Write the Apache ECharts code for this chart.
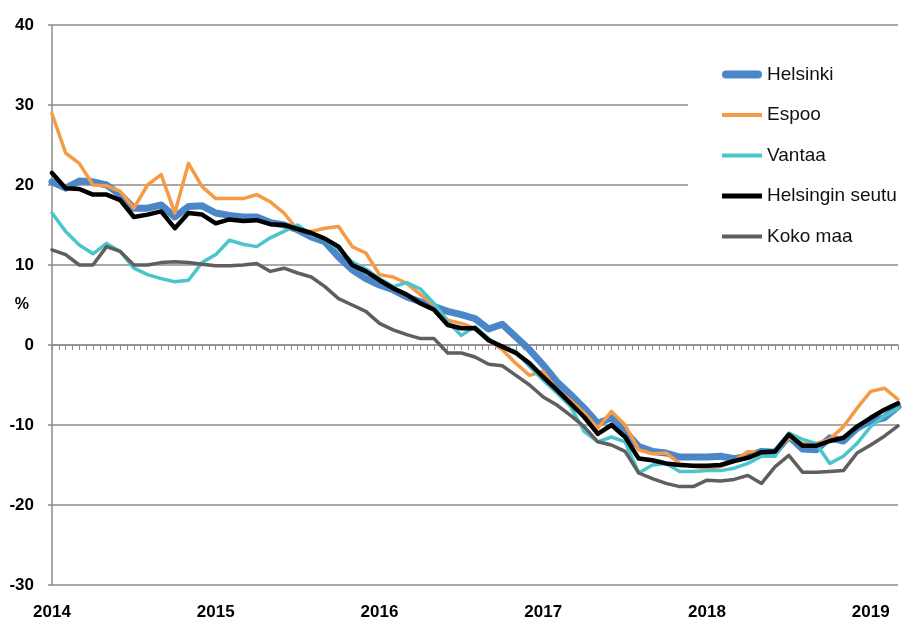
<!DOCTYPE html>
<html>
<head>
<meta charset="utf-8">
<script src="https://cdn.jsdelivr.net/npm/echarts@6/dist/echarts.min.js"></script>
<style>html,body{margin:0;padding:0;background:#fff}#c{width:908px;height:621px}</style>
</head>
<body>
<div id="c"></div>
<script>
// Tick labels / categories
const yearLabels = ['2014', '2015', '2016', '2017', '2018', '2019'];
const monthsInLastYear = 3;
const categories = [];
yearLabels.forEach((y, yi) => {
  const n = yi === yearLabels.length - 1 ? monthsInLastYear : 12;
  for (let m = 1; m <= n; m++) categories.push(y + '-' + String(m).padStart(2, '0'));
});

const seriesNames = ['Helsinki', 'Espoo', 'Vantaa', 'Helsingin seutu', 'Koko maa'];

// Values (% change), Jan 2014 .. Mar 2019
const helsinki = [
  20.4, 19.6, 20.5, 20.4, 20.0, 18.8, 17.1, 17.1, 17.5, 16.0, 17.3, 17.4,
  16.5, 16.2, 16.0, 16.0, 15.3, 15.0, 14.4, 13.5, 12.9, 11.0, 9.4, 8.3,
  7.5, 6.9, 6.0, 5.4, 4.8, 4.2, 3.8, 3.3, 2.0, 2.6, 1.0, -0.6,
  -2.5, -4.6, -6.2, -7.9, -9.8, -9.1, -10.8, -12.7, -13.3, -13.5, -14.0, -14.0,
  -14.0, -13.9, -14.2, -13.9, -13.3, -13.4, -11.4, -13.0, -13.1, -11.6, -12.0, -10.4,
  -9.5, -9.1, -7.7
];
const espoo = [
  28.9, 24.0, 22.7, 20.0, 19.9, 19.2, 17.1, 20.0, 21.3, 16.5, 22.7, 19.8,
  18.3, 18.3, 18.3, 18.8, 17.9, 16.5, 14.4, 14.2, 14.6, 14.8, 12.3, 11.5,
  8.8, 8.5, 7.7, 6.3, 5.0, 3.1, 2.7, 2.1, 0.6, -0.6, -2.3, -3.8,
  -3.3, -5.6, -6.9, -8.5, -10.4, -8.3, -10.0, -13.1, -13.6, -13.5, -14.8, -15.2,
  -15.4, -15.2, -14.5, -13.3, -13.5, -13.3, -11.6, -12.3, -12.3, -11.8, -10.2, -7.9,
  -5.8, -5.4, -6.8
];
const vantaa = [
  16.5, 14.2, 12.5, 11.4, 12.7, 11.7, 9.6, 8.8, 8.3, 7.9, 8.1, 10.3,
  11.3, 13.1, 12.6, 12.3, 13.4, 14.2, 15.0, 13.8, 13.2, 12.0, 10.4, 9.5,
  8.3, 7.3, 7.8, 7.0, 5.2, 2.9, 1.2, 2.3, 0.8, -0.3, -0.8, -2.7,
  -4.4, -6.0, -7.7, -10.8, -12.1, -11.5, -12.1, -16.0, -15.0, -14.8, -15.8, -15.8,
  -15.7, -15.7, -15.4, -14.8, -13.9, -13.9, -11.0, -11.8, -12.3, -14.8, -13.9, -12.3,
  -10.2, -8.9, -7.9
];
const helsinginSeutu = [
  21.5, 19.6, 19.5, 18.8, 18.8, 18.1, 16.0, 16.3, 16.7, 14.6, 16.5, 16.3,
  15.2, 15.7, 15.5, 15.6, 15.1, 15.0, 14.5, 14.0, 13.3, 12.3, 10.0, 9.2,
  8.1, 7.1, 6.3, 5.2, 4.4, 2.5, 2.1, 2.1, 0.6, -0.2, -1.0, -2.3,
  -4.0, -5.6, -7.3, -9.0, -11.1, -10.0, -11.5, -14.2, -14.4, -14.8, -15.0, -15.1,
  -15.1, -15.0, -14.5, -14.1, -13.4, -13.3, -11.2, -12.6, -12.6, -12.0, -11.6, -10.2,
  -9.1, -8.1, -7.3
];
const kokoMaa = [
  11.9, 11.3, 10.0, 10.0, 12.3, 11.7, 10.0, 10.0, 10.3, 10.4, 10.3, 10.1,
  9.9, 9.9, 10.0, 10.2, 9.2, 9.6, 9.0, 8.5, 7.3, 5.8, 5.0, 4.2,
  2.7, 1.9, 1.3, 0.8, 0.8, -1.0, -1.0, -1.5, -2.4, -2.6, -3.8, -5.0,
  -6.5, -7.5, -8.8, -10.2, -12.1, -12.5, -13.3, -16.0, -16.7, -17.3, -17.7, -17.7,
  -16.9, -17.0, -16.8, -16.3, -17.3, -15.2, -13.8, -15.9, -15.9, -15.8, -15.7, -13.5,
  -12.5, -11.4, -10.1
];

const yTicks = { min: -30, max: 40, interval: 10 };

const colors = ['#4a86c8', '#f79a46', '#4bc5cc', '#000000', '#5f5f5f'];
const widths = [7, 3.5, 3.5, 4.5, 3.5];
const icons = [
  'path://M4,0 L36,0 A4,4 0 0 1 36,8 L4,8 A4,4 0 0 1 4,0 Z',
  'path://M0,0 L40,0 L40,4 L0,4 Z',
  'path://M0,0 L40,0 L40,4 L0,4 Z',
  'path://M0,0 L40,0 L40,5 L0,5 Z',
  'path://M0,0 L40,0 L40,4 L0,4 Z'
];
const dataSets = [helsinki, espoo, vantaa, helsinginSeutu, kokoMaa];

const gridColor = '#8c8c8c';
const chart = echarts.init(document.getElementById('c'), null, { renderer: 'canvas' });
chart.setOption({
  animation: false,
  backgroundColor: '#ffffff',
  textStyle: { fontFamily: 'Liberation Sans' },
  grid: { left: 52, right: 10, top: 25, bottom: 36, containLabel: false, outerBoundsMode: 'none' },
  legend: {
    orient: 'vertical',
    left: 688,
    top: 48,
    padding: [17, 10, 12, 34],
    backgroundColor: '#ffffff',
    itemWidth: 40,
    itemHeight: 14,
    itemGap: 21.5,
    textStyle: { fontSize: 19, color: '#111', fontFamily: 'Liberation Sans' },
    data: seriesNames.map((n, i) => ({ name: n, icon: icons[i] }))
  },
  xAxis: [
    {
      type: 'category',
      data: categories,
      boundaryGap: false,
      position: 'bottom',
      axisLine: { show: false, onZero: false },
      axisTick: { show: false },
      splitLine: { show: false },
      axisLabel: {
        interval: (idx) => idx % 12 === 0,
        formatter: (v) => v.slice(0, 4),
        margin: 19,
        fontSize: 17,
        fontWeight: 'bold',
        color: '#000',
        fontFamily: 'Liberation Sans'
      }
    },
    {
      type: 'value',
      min: 0,
      max: categories.length - 1,
      interval: 0.5,
      position: 'bottom',
      axisLine: { show: true, onZero: true, lineStyle: { color: gridColor, width: 1.5 } },
      axisTick: { show: true, inside: false, length: 5, lineStyle: { color: gridColor, width: 1 } },
      axisLabel: { show: false },
      splitLine: { show: false }
    }
  ],
  yAxis: {
    type: 'value',
    min: yTicks.min,
    max: yTicks.max,
    interval: yTicks.interval,
    name: '%',
    nameLocation: 'middle',
    nameRotate: 0,
    nameGap: 23,
    nameMoveOverlap: false,
    nameTextStyle: { fontSize: 16, fontWeight: 'bold', color: '#000', padding: [0, 0, 22, 0], fontFamily: 'Liberation Sans' },
    axisLine: { show: true, lineStyle: { color: gridColor, width: 1.5 } },
    axisTick: { show: true, inside: false, length: 4, lineStyle: { color: gridColor, width: 1.5 } },
    axisLabel: { margin: 18, fontSize: 17, fontWeight: 'bold', color: '#000', fontFamily: 'Liberation Sans' },
    splitLine: { show: true, lineStyle: { color: gridColor, width: 1.5 } }
  },
  series: seriesNames.map((n, i) => ({
    name: n,
    type: 'line',
    xAxisIndex: 0,
    data: dataSets[i],
    symbol: 'none',
    color: colors[i],
    lineStyle: { width: widths[i], color: colors[i], join: 'round', cap: 'round' },
    itemStyle: { color: colors[i] },
    emphasis: { disabled: true },
    z: 2 + i
  }))
});
</script>
</body>
</html>
